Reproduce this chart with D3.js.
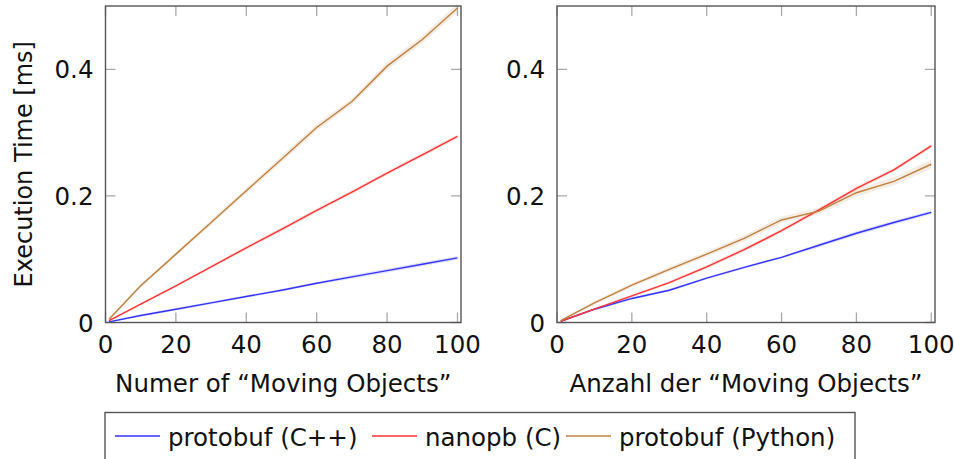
<!DOCTYPE html>
<html>
<head>
<meta charset="utf-8">
<script src="https://cdn.jsdelivr.net/npm/d3@7"></script>
<style>
  body { margin: 0; background: #fff; }
  text { font-family: "DejaVu Sans", sans-serif; fill: #111; }
</style>
</head>
<body>
<div id="chart"></div>
<script>
// measured values, x = number of moving objects
var xValues = [1, 10, 20, 30, 40, 50, 60, 70, 80, 90, 100];

// left panel
var leftCpp    = [0.001, 0.011, 0.021, 0.031, 0.041, 0.051, 0.062, 0.072, 0.082, 0.092, 0.102];
var leftNanopb = [0.003, 0.029, 0.058, 0.088, 0.118, 0.147, 0.177, 0.206, 0.236, 0.265, 0.294];
var leftPython = [0.005, 0.058, 0.108, 0.158, 0.208, 0.258, 0.308, 0.349, 0.405, 0.447, 0.497];

// right panel
var rightCpp    = [0.002, 0.021, 0.038, 0.051, 0.070, 0.087, 0.103, 0.122, 0.141, 0.158, 0.174];
var rightNanopb = [0.002, 0.021, 0.042, 0.063, 0.088, 0.115, 0.145, 0.178, 0.212, 0.241, 0.279];
var rightPython = [0.003, 0.031, 0.059, 0.084, 0.108, 0.133, 0.162, 0.176, 0.205, 0.223, 0.250];

// spread of the shaded band (half width)
var bandCpp    = [0.001, 0.002, 0.002, 0.002, 0.002, 0.002, 0.002, 0.003, 0.003, 0.003, 0.003];
var bandNanopb = [0.001, 0.002, 0.002, 0.002, 0.003, 0.003, 0.003, 0.003, 0.003, 0.003, 0.003];
var bandPython = [0.002, 0.003, 0.003, 0.004, 0.004, 0.005, 0.005, 0.005, 0.006, 0.006, 0.007];

var seriesNames = ["protobuf (C++)", "nanopb (C)", "protobuf (Python)"];
var seriesColors = ["#3333ff", "#ff3333", "#bf8040"];
var xTicks = [0, 20, 40, 60, 80, 100];
var yTicks = [0, 0.2, 0.4];
var xTitles = ["Numer of \u201cMoving Objects\u201d", "Anzahl der \u201cMoving Objects\u201d"];
var yTitle = "Execution Time [ms]";

var width = 954, height = 459;
var fontSize = 24.5;

var svg = d3.select('#chart')
    .append('svg')
    .attr('width', width)
    .attr('height', height);

var panels = [
    {left: 105.5, right: 461, data: [leftCpp, leftNanopb, leftPython]},
    {left: 557, right: 935, data: [rightCpp, rightNanopb, rightPython]}
];
var bands = [bandCpp, bandNanopb, bandPython];
var plotTop = 6, plotBottom = 322.5;

panels.forEach(function(p, pi) {
    var x = d3.scaleLinear().domain([0, 101]).range([p.left, p.right]);
    var y = d3.scaleLinear().domain([0, 0.5]).range([plotBottom, plotTop]);
    var g = svg.append('g');

    // ticks, mirrored on all sides
    var tickLen = 10;
    g.selectAll('.xt').data(xTicks).enter().append('path')
        .attr('d', d => 'M' + x(d) + ',' + plotBottom + 'v' + (-tickLen) + 'M' + x(d) + ',' + plotTop + 'v' + tickLen)
        .attr('stroke', '#aaa').attr('stroke-width', 1.3);
    g.selectAll('.yt').data(yTicks).enter().append('path')
        .attr('d', d => 'M' + p.left + ',' + y(d) + 'h' + tickLen + 'M' + p.right + ',' + y(d) + 'h' + (-tickLen))
        .attr('stroke', '#aaa').attr('stroke-width', 1.3);

    // bands and lines
    p.data.forEach(function(vals, si) {
        var area = d3.area()
            .x((d, i) => x(xValues[i]))
            .y0((d, i) => y(d - bands[si][i]))
            .y1((d, i) => y(d + bands[si][i]));
        g.append('path')
            .attr('d', area(vals))
            .attr('fill', seriesColors[si])
            .attr('opacity', 0.15);
    });
    p.data.forEach(function(vals, si) {
        var line = d3.line().x((d, i) => x(xValues[i])).y(d => y(d));
        g.append('path')
            .attr('d', line(vals))
            .attr('fill', 'none')
            .attr('stroke', seriesColors[si])
            .attr('stroke-width', 1.4);
    });

    // frame
    g.append('rect')
        .attr('x', p.left).attr('y', plotTop)
        .attr('width', p.right - p.left).attr('height', plotBottom - plotTop)
        .attr('fill', 'none').attr('stroke', '#555').attr('stroke-width', 1.4);

    // tick labels
    g.selectAll('.xl').data(xTicks).enter().append('text')
        .attr('x', d => x(d)).attr('y', 353)
        .attr('text-anchor', 'middle')
        .attr('font-size', fontSize)
        .text(d => d);
    g.selectAll('.yl').data(yTicks).enter().append('text')
        .attr('x', p.left - 12).attr('y', d => y(d) + 9)
        .attr('text-anchor', 'end')
        .attr('font-size', fontSize)
        .text(d => d);

    g.append('text')
        .attr('x', (p.left + p.right) / 2).attr('y', 392)
        .attr('text-anchor', 'middle')
        .attr('font-size', fontSize)
        .text(xTitles[pi]);
});

svg.append('text')
    .attr('transform', 'translate(32,' + ((plotTop + plotBottom) / 2) + ') rotate(-90)')
    .attr('text-anchor', 'middle')
    .attr('font-size', 24)
    .text(yTitle);

// legend
var legend = svg.append('g');
legend.append('rect')
    .attr('x', 105).attr('y', 412.5)
    .attr('width', 750).attr('height', 60)
    .attr('fill', 'none').attr('stroke', '#555').attr('stroke-width', 1.4);
var legendX = [115, 372, 566];
seriesNames.forEach(function(name, i) {
    legend.append('line')
        .attr('x1', legendX[i]).attr('x2', legendX[i] + 45)
        .attr('y1', 436).attr('y2', 436)
        .attr('stroke', seriesColors[i]).attr('stroke-width', 1.4);
    legend.append('text')
        .attr('x', legendX[i] + 53).attr('y', 446)
        .attr('font-size', fontSize)
        .text(name);
});
</script>
</body>
</html>
